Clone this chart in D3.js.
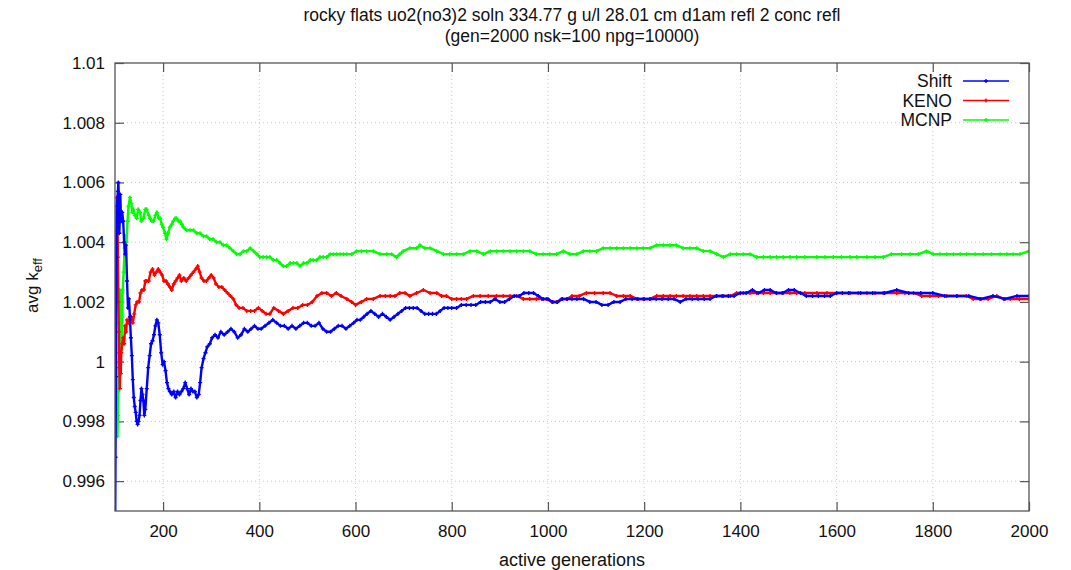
<!DOCTYPE html>
<html>
<head>
<meta charset="utf-8">
<script src="https://cdn.jsdelivr.net/npm/d3@7.9.0/dist/d3.min.js"></script>
<style>
  html, body { margin: 0; padding: 0; background: #fff; }
  svg { display: block; font-family: "Liberation Sans", Arial, sans-serif; }
</style>
</head>
<body>
<svg id="chart" width="1071" height="570"></svg>
<script>
// average k_eff per active generation
const shiftData = [
  [100, 0.9930], [101, 0.9968], [102, 0.9995], [103, 1.0035], [104, 1.0052], [106, 1.0057], [107, 1.0060],
  [108, 1.0055], [109, 1.0043], [110, 1.0048], [111, 1.0056], [112, 1.0050], [113, 1.0047], [115, 1.0050],
  [117, 1.0047], [119, 1.0040], [121, 1.0036], [123, 1.0039], [125, 1.0027], [127, 1.0018], [129, 1.0021],
  [131, 1.0015], [133, 1.0008], [135, 1.0002], [137, 0.9994], [139, 0.9988], [141, 0.9985], [143, 0.9983],
  [145, 0.9980], [147, 0.9979], [149, 0.9980], [151, 0.9982], [153, 0.9987], [155, 0.9991], [157, 0.9989],
  [159, 0.9987], [161, 0.9982], [163, 0.9984], [166, 0.9991], [169, 0.9998], [172, 1.0002], [175, 1.0006],
  [178, 1.0007], [181, 1.0009], [184, 1.0012], [187, 1.0014], [190, 1.0013], [193, 1.0009], [196, 1.0003],
  [199, 0.9999], [202, 1.0000], [205, 0.9997], [208, 0.9993], [211, 0.9991], [214, 0.9990], [218, 0.9989],
  [222, 0.9990], [226, 0.9988], [230, 0.9990], [234, 0.9989], [238, 0.9990], [242, 0.9991], [246, 0.9993],
  [250, 0.9991], [254, 0.9989], [258, 0.9991], [262, 0.9990], [266, 0.9990], [270, 0.9988], [274, 0.9989],
  [277, 0.9993], [280, 0.9998], [284, 1.0001], [288, 1.0003], [292, 1.0005], [297, 1.0006], [302, 1.0008],
  [308, 1.0009], [314, 1.0008], [320, 1.0010], [327, 1.0009], [334, 1.0010], [341, 1.0011], [348, 1.0010],
  [355, 1.0008], [362, 1.0009], [369, 1.0011], [376, 1.0010], [383, 1.0011], [390, 1.0012], [397, 1.0011],
  [404, 1.0011], [412, 1.0012], [420, 1.0013], [428, 1.0014], [436, 1.0013], [444, 1.0012], [452, 1.0012],
  [460, 1.0011], [468, 1.0012], [476, 1.0011], [484, 1.0012], [492, 1.0013], [500, 1.0013], [508, 1.0012],
  [516, 1.0012], [524, 1.0013], [532, 1.0011], [540, 1.0010], [548, 1.0010], [556, 1.0011], [564, 1.0012],
  [572, 1.0012], [580, 1.0011], [588, 1.0012], [596, 1.0013], [603, 1.0014], [610, 1.0014], [617, 1.0015],
  [624, 1.0016], [632, 1.0017], [640, 1.0016], [648, 1.0015], [656, 1.0016], [664, 1.0015], [672, 1.0014],
  [680, 1.0015], [688, 1.0016], [696, 1.0017], [704, 1.0018], [712, 1.0018], [720, 1.0018], [728, 1.0018],
  [736, 1.0017], [744, 1.0016], [752, 1.0016], [760, 1.0016], [768, 1.0016], [776, 1.0017], [784, 1.0018],
  [792, 1.0018], [800, 1.0018], [810, 1.0018], [820, 1.0019], [830, 1.0019], [840, 1.0019], [850, 1.0019],
  [860, 1.0020], [870, 1.0020], [880, 1.0020], [890, 1.0021], [900, 1.0020], [910, 1.0020], [920, 1.0021],
  [930, 1.0022], [940, 1.0022], [950, 1.0023], [960, 1.0023], [970, 1.0023], [980, 1.0022], [990, 1.0021],
  [1000, 1.0021], [1010, 1.0020], [1020, 1.0020], [1030, 1.0021], [1040, 1.0021], [1050, 1.0021],
  [1060, 1.0021], [1074, 1.0021], [1087, 1.0020], [1100, 1.0020], [1112, 1.0019], [1125, 1.0019],
  [1137, 1.0020], [1150, 1.0020], [1162, 1.0021], [1175, 1.0021], [1187, 1.0021], [1200, 1.0021],
  [1212, 1.0021], [1225, 1.0021], [1237, 1.0021], [1250, 1.0021], [1262, 1.0021], [1275, 1.0020],
  [1287, 1.0021], [1300, 1.0021], [1312, 1.0021], [1325, 1.0021], [1337, 1.0021], [1350, 1.0022],
  [1362, 1.0022], [1375, 1.0022], [1387, 1.0022], [1400, 1.0023], [1412, 1.0023], [1425, 1.0024],
  [1437, 1.0023], [1450, 1.0024], [1462, 1.0024], [1475, 1.0023], [1487, 1.0023], [1500, 1.0024],
  [1512, 1.0024], [1525, 1.0023], [1537, 1.0022], [1550, 1.0022], [1562, 1.0022], [1575, 1.0022],
  [1587, 1.0022], [1600, 1.0023], [1612, 1.0023], [1625, 1.0023], [1650, 1.0023], [1675, 1.0023],
  [1700, 1.0023], [1725, 1.0024], [1750, 1.0023], [1775, 1.0023], [1800, 1.0023], [1825, 1.0022],
  [1850, 1.0022], [1875, 1.0022], [1900, 1.0021], [1925, 1.0022], [1950, 1.0021], [1975, 1.0022], [2000, 1.0022]
];

const kenoData = [
  [100, 1.0020], [101, 1.0021], [102, 1.0030], [103, 1.0042], [104, 1.0055], [105, 1.0050], [106, 1.0035],
  [107, 1.0020], [108, 1.0010], [109, 0.9998], [110, 0.9991], [111, 1.0000], [112, 0.9996], [113, 1.0003],
  [115, 1.0006], [117, 1.0008], [119, 1.0006], [121, 1.0012], [123, 1.0010], [125, 1.0014], [128, 1.0013],
  [131, 1.0015], [134, 1.0015], [137, 1.0013], [140, 1.0016], [143, 1.0019], [146, 1.0020], [150, 1.0020],
  [153, 1.0023], [156, 1.0024], [160, 1.0024], [163, 1.0027], [166, 1.0027], [170, 1.0027], [174, 1.0030],
  [178, 1.0031], [182, 1.0029], [186, 1.0030], [190, 1.0031], [194, 1.0030], [198, 1.0029], [202, 1.0027],
  [206, 1.0027], [210, 1.0026], [214, 1.0025], [218, 1.0024], [222, 1.0026], [226, 1.0027], [230, 1.0028],
  [234, 1.0029], [238, 1.0027], [243, 1.0028], [248, 1.0027], [253, 1.0028], [258, 1.0029], [263, 1.0030],
  [268, 1.0031], [272, 1.0032], [276, 1.0030], [280, 1.0028], [285, 1.0027], [290, 1.0027], [295, 1.0028],
  [300, 1.0029], [305, 1.0028], [310, 1.0026], [316, 1.0025], [322, 1.0025], [328, 1.0024], [334, 1.0023],
  [340, 1.0022], [346, 1.0021], [352, 1.0019], [358, 1.0018], [366, 1.0018], [374, 1.0017], [382, 1.0017],
  [390, 1.0017], [398, 1.0018], [406, 1.0017], [414, 1.0016], [422, 1.0016], [430, 1.0018], [440, 1.0017],
  [450, 1.0016], [460, 1.0017], [470, 1.0018], [480, 1.0018], [490, 1.0019], [500, 1.0019], [510, 1.0020],
  [520, 1.0022], [530, 1.0023], [540, 1.0023], [550, 1.0022], [560, 1.0023], [570, 1.0022], [582, 1.0021],
  [592, 1.0020], [600, 1.0019], [612, 1.0020], [623, 1.0021], [637, 1.0021], [651, 1.0022], [662, 1.0022],
  [672, 1.0022], [682, 1.0022], [692, 1.0023], [703, 1.0023], [713, 1.0022], [727, 1.0023], [741, 1.0024],
  [755, 1.0023], [769, 1.0023], [779, 1.0022], [789, 1.0022], [800, 1.0021], [810, 1.0021], [820, 1.0021],
  [831, 1.0021], [845, 1.0022], [859, 1.0022], [876, 1.0022], [893, 1.0022], [907, 1.0022], [921, 1.0022],
  [935, 1.0022], [949, 1.0021], [962, 1.0021], [976, 1.0021], [987, 1.0021], [997, 1.0021], [1008, 1.0020],
  [1018, 1.0020], [1028, 1.0021], [1039, 1.0021], [1050, 1.0022], [1065, 1.0022], [1080, 1.0023],
  [1097, 1.0023], [1115, 1.0023], [1129, 1.0023], [1143, 1.0022], [1157, 1.0022], [1171, 1.0022],
  [1185, 1.0021], [1198, 1.0021], [1212, 1.0021], [1226, 1.0022], [1240, 1.0022], [1254, 1.0022],
  [1267, 1.0022], [1281, 1.0022], [1295, 1.0022], [1309, 1.0022], [1323, 1.0022], [1337, 1.0022],
  [1351, 1.0022], [1365, 1.0022], [1379, 1.0022], [1392, 1.0023], [1406, 1.0023], [1420, 1.0023],
  [1434, 1.0023], [1448, 1.0023], [1462, 1.0023], [1475, 1.0023], [1489, 1.0023], [1503, 1.0023],
  [1517, 1.0023], [1534, 1.0023], [1559, 1.0023], [1580, 1.0023], [1600, 1.0023], [1628, 1.0023],
  [1645, 1.0023], [1663, 1.0023], [1680, 1.0023], [1697, 1.0023], [1725, 1.0023], [1742, 1.0023],
  [1760, 1.0023], [1777, 1.0022], [1794, 1.0022], [1812, 1.0022], [1829, 1.0022], [1850, 1.0022],
  [1870, 1.0022], [1884, 1.0021], [1898, 1.0021], [1915, 1.0021], [1933, 1.0022], [1947, 1.0021],
  [1961, 1.0021], [1980, 1.0021], [2000, 1.0021]
];

const mcnpData = [
  [100, 0.9980], [101, 0.9975], [102, 0.9988], [103, 0.9976], [104, 0.9985], [105, 0.9975], [106, 0.9982],
  [107, 0.9990], [108, 1.0003], [109, 1.0013], [110, 1.0024], [111, 1.0022], [112, 1.0010], [113, 1.0004],
  [114, 1.0008], [115, 1.0015], [116, 1.0024], [118, 1.0030], [120, 1.0038], [122, 1.0042], [124, 1.0040],
  [126, 1.0047], [128, 1.0052], [131, 1.0055], [134, 1.0053], [136, 1.0050], [138, 1.0051], [141, 1.0049],
  [145, 1.0048], [148, 1.0051], [152, 1.0050], [155, 1.0047], [159, 1.0048], [163, 1.0051], [166, 1.0051],
  [170, 1.0049], [173, 1.0048], [177, 1.0047], [180, 1.0047], [184, 1.0049], [187, 1.0050], [191, 1.0048],
  [194, 1.0048], [197, 1.0046], [200, 1.0045], [204, 1.0043], [207, 1.0041], [210, 1.0043], [214, 1.0045],
  [218, 1.0046], [221, 1.0047], [225, 1.0048], [228, 1.0048], [232, 1.0047], [235, 1.0047], [239, 1.0046],
  [242, 1.0045], [249, 1.0044], [256, 1.0044], [263, 1.0044], [270, 1.0043], [277, 1.0043], [284, 1.0042],
  [290, 1.0042], [297, 1.0041], [304, 1.0041], [311, 1.0040], [318, 1.0040], [325, 1.0039], [332, 1.0039],
  [339, 1.0038], [346, 1.0037], [353, 1.0036], [360, 1.0036], [367, 1.0037], [374, 1.0037], [381, 1.0038],
  [388, 1.0037], [395, 1.0036], [401, 1.0035], [408, 1.0035], [415, 1.0035], [422, 1.0035], [429, 1.0034],
  [436, 1.0034], [443, 1.0033], [450, 1.0032], [457, 1.0032], [464, 1.0033], [471, 1.0033], [478, 1.0033],
  [485, 1.0032], [492, 1.0033], [499, 1.0033], [506, 1.0034], [512, 1.0034], [519, 1.0034], [526, 1.0035],
  [533, 1.0035], [540, 1.0035], [547, 1.0036], [554, 1.0036], [561, 1.0036], [568, 1.0036], [575, 1.0036],
  [582, 1.0036], [592, 1.0036], [602, 1.0037], [612, 1.0037], [623, 1.0037], [637, 1.0037], [651, 1.0036],
  [665, 1.0036], [675, 1.0036], [685, 1.0035], [692, 1.0036], [699, 1.0037], [713, 1.0038], [727, 1.0038],
  [734, 1.0039], [744, 1.0038], [755, 1.0038], [769, 1.0037], [783, 1.0036], [796, 1.0036], [810, 1.0036],
  [824, 1.0036], [838, 1.0037], [852, 1.0037], [866, 1.0036], [880, 1.0037], [893, 1.0037], [907, 1.0037],
  [921, 1.0037], [935, 1.0037], [949, 1.0037], [962, 1.0037], [976, 1.0036], [990, 1.0036], [1004, 1.0036],
  [1018, 1.0036], [1032, 1.0037], [1046, 1.0036], [1060, 1.0036], [1074, 1.0037], [1087, 1.0037],
  [1101, 1.0037], [1115, 1.0038], [1129, 1.0038], [1143, 1.0038], [1157, 1.0038], [1171, 1.0038],
  [1185, 1.0038], [1198, 1.0038], [1212, 1.0038], [1226, 1.0039], [1240, 1.0039], [1254, 1.0039],
  [1267, 1.0039], [1281, 1.0038], [1295, 1.0038], [1309, 1.0038], [1323, 1.0037], [1337, 1.0037],
  [1351, 1.0036], [1365, 1.0035], [1379, 1.0036], [1392, 1.0036], [1406, 1.0036], [1420, 1.0036],
  [1434, 1.0035], [1448, 1.0035], [1462, 1.0035], [1475, 1.0035], [1489, 1.0035], [1503, 1.0035],
  [1517, 1.0035], [1534, 1.0035], [1559, 1.0035], [1576, 1.0035], [1593, 1.0035], [1610, 1.0035],
  [1628, 1.0035], [1642, 1.0035], [1663, 1.0035], [1680, 1.0035], [1697, 1.0035], [1714, 1.0036],
  [1735, 1.0036], [1753, 1.0036], [1770, 1.0036], [1787, 1.0037], [1801, 1.0036], [1815, 1.0036],
  [1829, 1.0036], [1843, 1.0036], [1857, 1.0036], [1870, 1.0036], [1888, 1.0036], [1905, 1.0036],
  [1922, 1.0036], [1940, 1.0036], [1954, 1.0036], [1967, 1.0036], [1981, 1.0036], [2000, 1.0037]
];

const seriesNames = ['Shift', 'KENO', 'MCNP'];
const seriesColors = ['#0000ff', '#ff0000', '#00ff00'];
const seriesData = [shiftData, kenoData, mcnpData];

const xTicks = [200, 400, 600, 800, 1000, 1200, 1400, 1600, 1800, 2000];
const yTicks = [0.996, 0.998, 1, 1.002, 1.004, 1.006, 1.008, 1.01];

const titleLines = [
  'rocky flats uo2(no3)2 soln 334.77 g u/l 28.01 cm d1am refl 2 conc refl',
  '(gen=2000 nsk=100 npg=10000)'
];

const svg = d3.select('#chart');
const pLeft = 115, pRight = 1029, pTop = 63, pBottom = 511;

const x = d3.scaleLinear().domain([100, 2000]).range([pLeft, pRight]);
const y = d3.scaleLinear().domain([0.995, 1.01]).range([pBottom, pTop]);

// grid
const grid = svg.append('g')
  .attr('stroke', '#c8c8c8')
  .attr('stroke-width', 1)
  .attr('stroke-dasharray', '1,3');
xTicks.filter(t => t < 2000).forEach(t => {
  grid.append('line')
    .attr('x1', x(t)).attr('x2', x(t))
    .attr('y1', pTop).attr('y2', pBottom);
});
yTicks.filter(t => t < 1.01).forEach(t => {
  grid.append('line')
    .attr('x1', pLeft).attr('x2', pRight)
    .attr('y1', y(t)).attr('y2', y(t));
});

// axes with inward ticks, mirrored on top / right
const tickLen = 9;
const fmtY = d => String(+d.toFixed(3));

svg.append('g')
  .attr('transform', `translate(0,${pBottom})`)
  .call(d3.axisBottom(x).tickValues(xTicks).tickSize(-tickLen).tickPadding(14).tickFormat(d3.format('d')))
  .call(g => g.select('.domain').remove());
svg.append('g')
  .attr('transform', `translate(0,${pTop})`)
  .call(d3.axisTop(x).tickValues(xTicks).tickSize(-tickLen).tickFormat(''))
  .call(g => g.select('.domain').remove());
svg.append('g')
  .attr('transform', `translate(${pLeft},0)`)
  .call(d3.axisLeft(y).tickValues(yTicks).tickSize(-tickLen).tickPadding(10).tickFormat(fmtY))
  .call(g => g.select('.domain').remove());
svg.append('g')
  .attr('transform', `translate(${pRight},0)`)
  .call(d3.axisRight(y).tickValues(yTicks).tickSize(-tickLen).tickFormat(''))
  .call(g => g.select('.domain').remove());

svg.selectAll('.tick line').attr('stroke', '#555').attr('stroke-width', 1.2);
svg.selectAll('.tick text')
  .attr('fill', '#111')
  .style('font-size', '17px')
  .style('font-family', '"Liberation Sans", Arial, sans-serif');

// clip
svg.append('clipPath').attr('id', 'plot-clip')
  .append('rect')
  .attr('x', pLeft).attr('y', pTop)
  .attr('width', pRight - pLeft).attr('height', pBottom - pTop);

const line = d3.line().x(d => x(d[0])).y(d => y(d[1]));
const marker = d3.symbol().type(d3.symbolCross).size(9);

const plot = svg.append('g').attr('clip-path', 'url(#plot-clip)');
// draw MCNP first, then KENO, Shift on top
[2, 1, 0].forEach(i => {
  plot.append('path')
    .datum(seriesData[i])
    .attr('fill', 'none')
    .attr('stroke', seriesColors[i])
    .attr('stroke-width', 2.4)
    .attr('stroke-linejoin', 'round')
    .attr('d', line);
  plot.append('g')
    .selectAll('path')
    .data(seriesData[i])
    .join('path')
    .attr('transform', d => `translate(${x(d[0])},${y(d[1])})`)
    .attr('d', marker)
    .attr('fill', seriesColors[i]);
});

// frame
svg.append('rect')
  .attr('x', pLeft).attr('y', pTop)
  .attr('width', pRight - pLeft).attr('height', pBottom - pTop)
  .attr('fill', 'none')
  .attr('stroke', '#555')
  .attr('stroke-width', 1.3);

// legend
const legend = svg.append('g');
seriesNames.forEach((name, i) => {
  const ly = 81 + i * 19.5;
  legend.append('text')
    .attr('x', 952).attr('y', ly)
    .attr('dy', '0.35em')
    .attr('text-anchor', 'end')
    .style('font-size', '17.5px')
    .attr('fill', '#111')
    .text(name);
  legend.append('line')
    .attr('x1', 963).attr('x2', 1009)
    .attr('y1', ly).attr('y2', ly)
    .attr('stroke', seriesColors[i])
    .attr('stroke-width', 1.6);
  legend.append('path')
    .attr('transform', `translate(986,${ly})`)
    .attr('d', marker)
    .attr('fill', seriesColors[i]);
});

// title
titleLines.forEach((t, i) => {
  svg.append('text')
    .attr('x', (pLeft + pRight) / 2)
    .attr('y', 21 + i * 21)
    .attr('text-anchor', 'middle')
    .style('font-size', '17.5px')
    .attr('fill', '#111')
    .text(t);
});

// axis labels
svg.append('text')
  .attr('x', (pLeft + pRight) / 2)
  .attr('y', 566)
  .attr('text-anchor', 'middle')
  .style('font-size', '18px')
  .attr('fill', '#111')
  .text('active generations');

const ylab = svg.append('text')
  .attr('transform', `translate(38,285.5) rotate(-90)`)
  .attr('text-anchor', 'middle')
  .style('font-size', '17px')
  .attr('fill', '#111');
ylab.append('tspan').text('avg k');
ylab.append('tspan').attr('dy', 4).style('font-size', '13px').text('eff');
</script>
</body>
</html>
